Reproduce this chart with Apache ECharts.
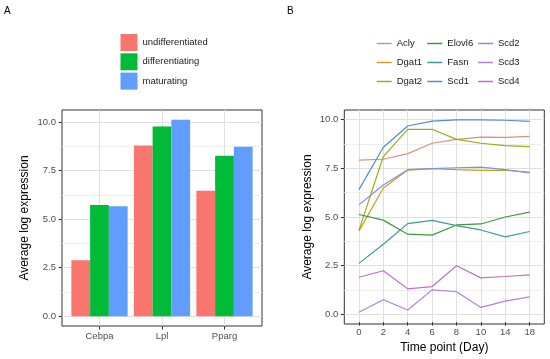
<!DOCTYPE html>
<html>
<head>
<meta charset="utf-8">
<script src="https://cdn.jsdelivr.net/npm/echarts@6/dist/echarts.min.js"></script>
<style>
html,body{margin:0;padding:0;background:#fff;}
#c{width:550px;height:359px;}
</style>
</head>
<body>
<div id="c"></div>
<script>
// ---------- Panel A data ----------
const genesA = ['Cebpa', 'Lpl', 'Pparg'];
const stagesA = ['undifferentiated', 'differentiating', 'maturating'];
const undifferentiated = [2.88, 8.80, 6.47];
const differentiating = [5.73, 9.78, 8.27];
const maturating = [5.67, 10.12, 8.73];
const ticksA = [0, 2.5, 5, 7.5, 10];
const minorTicksA = [1.25, 3.75, 6.25, 8.75];

// ---------- Panel B data ----------
const days = ['0', '2', '4', '6', '8', '10', '14', '18'];
const lineNames = ['Acly', 'Dgat1', 'Dgat2', 'Elovl6', 'Fasn', 'Scd1', 'Scd2', 'Scd3', 'Scd4'];
const Acly   = [7.89, 7.94, 8.23, 8.77, 8.97, 9.09, 9.07, 9.12];
const Dgat1  = [4.22, 6.45, 7.38, 7.45, 7.40, 7.36, 7.37, 7.27];
const Dgat2  = [4.26, 8.08, 9.49, 9.49, 8.97, 8.77, 8.65, 8.59];
const Elovl6 = [5.08, 4.79, 4.06, 4.01, 4.54, 4.59, 4.95, 5.20];
const Fasn   = [2.55, 3.54, 4.61, 4.78, 4.50, 4.28, 3.92, 4.20];
const Scd1   = [6.37, 8.56, 9.66, 9.91, 9.98, 9.98, 9.96, 9.90];
const Scd2   = [5.58, 6.61, 7.40, 7.46, 7.50, 7.53, 7.40, 7.23];
const Scd3   = [0.02, 0.67, 0.14, 1.18, 1.08, 0.27, 0.60, 0.82];
const Scd4   = [1.83, 2.17, 1.23, 1.35, 2.43, 1.80, 1.87, 1.95];
const lineData = [Acly, Dgat1, Dgat2, Elovl6, Fasn, Scd1, Scd2, Scd3, Scd4];
const ticksB = [0, 2.5, 5, 7.5, 10];
const minorTicksB = [1.25, 3.75, 6.25, 8.75];

const barColors = ['#F8766D', '#00BA38', '#619CFF'];
const lineColors = ['#D8937F', '#C4A21A', '#9AAE14', '#3D9A3D', '#3E9A96', '#4C8FD6', '#7F8FEA', '#B27FEA', '#C06EC8'];

const FONT = 'Liberation Sans, Arial, Helvetica, sans-serif';
const GRID_LINE = '#E0E0E0';
const MINOR_LINE = '#EEEEEE';
const FRAME = '#333333';
const TICK_TXT = '#4D4D4D';

const chart = echarts.init(document.getElementById('c'), null, {renderer: 'canvas'});

function frameY(min, max, ticks, name, gridIndex) {
  return {
    type: 'value', gridIndex: gridIndex, min: min, max: max,
    name: name, nameLocation: 'middle', nameGap: 31, nameRotate: 90,
    nameTextStyle: {fontSize: 12, color: '#000', fontFamily: FONT},
    axisLine: {show: false, onZero: false},
    axisTick: {show: true, length: 3.5, lineStyle: {color: FRAME, width: 1}, customValues: ticks},
    axisLabel: {show: true, customValues: ticks, color: TICK_TXT, fontSize: 9.5, fontFamily: FONT, margin: 6,
      formatter: v => Number(v).toFixed(1)},
    splitLine: {show: true, lineStyle: {color: GRID_LINE, width: 1}}
  };
}
function minorY(min, max, ticks, gridIndex) {
  return {
    type: 'value', gridIndex: gridIndex, min: min, max: max, position: 'left',
    axisLine: {show: false, onZero: false},
    axisTick: {show: false, customValues: ticks},
    axisLabel: {show: false, customValues: ticks},
    splitLine: {show: true, lineStyle: {color: MINOR_LINE, width: 1}}
  };
}
function hiddenY(min, max, gridIndex) {
  return {type: 'value', gridIndex: gridIndex, min: min, max: max, show: false,
    splitLine: {show: false}, axisLine: {show: false, onZero: false}, axisTick: {show: false}, axisLabel: {show: false}};
}

const A_MIN = -0.506, A_MAX = 10.626;
const B_MIN = -0.49, B_MAX = 10.49;

const series = [];
[undifferentiated, differentiating, maturating].forEach((d, i) => {
  series.push({
    name: stagesA[i], type: 'bar', xAxisIndex: 1, yAxisIndex: 2,
    data: d, barGap: '0%', barCategoryGap: '10%',
    itemStyle: {color: barColors[i]}, clip: false
  });
});
lineData.forEach((d, i) => {
  series.push({
    name: lineNames[i], type: 'line', xAxisIndex: 3, yAxisIndex: 5,
    data: d, showSymbol: false, symbol: 'none',
    lineStyle: {color: lineColors[i], width: 1.2}, itemStyle: {color: lineColors[i]}
  });
});

function lineLegend(names, left) {
  return {
    data: names, left: left, top: 34, orient: 'vertical', padding: 0,
    icon: 'rect', itemWidth: 15, itemHeight: 1.5, itemGap: 0,
    textStyle: {fontSize: 9.5, color: '#1a1a1a', fontFamily: FONT, lineHeight: 19, height: 19},
    selectedMode: false
  };
}

const option = {
  animation: false,
  backgroundColor: '#fff',
  textStyle: {fontFamily: FONT},
  title: [
    {text: 'A', left: 4, top: 6, padding: 0, textStyle: {fontSize: 10, fontWeight: 'normal', color: '#000', fontFamily: FONT}},
    {text: 'B', left: 287, top: 6, padding: 0, textStyle: {fontSize: 10, fontWeight: 'normal', color: '#000', fontFamily: FONT}}
  ],
  legend: [
    {data: stagesA, left: 120.5, top: 34, orient: 'vertical', icon: 'rect', padding: 0,
     itemWidth: 17, itemHeight: 17, itemGap: 2.3, selectedMode: false,
     textStyle: {fontSize: 9.5, color: '#1a1a1a', fontFamily: FONT}},
    lineLegend(lineNames.slice(0, 3), 376.7),
    lineLegend(lineNames.slice(3, 6), 427.3),
    lineLegend(lineNames.slice(6, 9), 478)
  ],
  grid: [
    {left: 62, top: 110, width: 200, height: 216, show: true, borderColor: FRAME, borderWidth: 1, backgroundColor: 'transparent', containLabel: false},
    {left: 68.25, top: 110, width: 187.5, height: 216, containLabel: false},
    {left: 344.3, top: 110, width: 200, height: 214, show: true, borderColor: FRAME, borderWidth: 1, backgroundColor: 'transparent', containLabel: false},
    {left: 358.93, top: 110, width: 170.74, height: 214, containLabel: false}
  ],
  xAxis: [
    {type: 'value', gridIndex: 0, min: -0.6, max: 2.6,
     axisLine: {show: false, onZero: false}, axisLabel: {show: false, customValues: [0, 1, 2]},
     axisTick: {show: false, customValues: [0, 1, 2]},
     splitLine: {show: true, lineStyle: {color: GRID_LINE, width: 1}}},
    {type: 'category', gridIndex: 1, data: genesA, boundaryGap: true,
     axisLine: {show: false, onZero: false},
     axisTick: {show: true, alignWithLabel: true, length: 3.5, lineStyle: {color: FRAME}},
     axisLabel: {color: TICK_TXT, fontSize: 9.5, fontFamily: FONT, margin: 5},
     splitLine: {show: false}},
    {type: 'value', gridIndex: 2, min: 0, max: 1, show: false, splitLine: {show: false}, axisLine: {onZero: false}},
    {type: 'category', gridIndex: 3, data: days, boundaryGap: false,
     name: 'Time point (Day)', nameLocation: 'middle', nameGap: 17,
     nameTextStyle: {fontSize: 12, color: '#000', fontFamily: FONT, verticalAlign: 'top'},
     axisLine: {show: false, onZero: false},
     axisTick: {show: true, length: 3.5, lineStyle: {color: FRAME}},
     axisLabel: {color: TICK_TXT, fontSize: 9.5, fontFamily: FONT, margin: 5},
     splitLine: {show: true, lineStyle: {color: GRID_LINE, width: 1}}}
  ],
  yAxis: [
    frameY(A_MIN, A_MAX, ticksA, 'Average log expression', 0),
    minorY(A_MIN, A_MAX, minorTicksA, 0),
    hiddenY(A_MIN, A_MAX, 1),
    frameY(B_MIN, B_MAX, ticksB, 'Average log expression', 2),
    minorY(B_MIN, B_MAX, minorTicksB, 2),
    hiddenY(B_MIN, B_MAX, 3)
  ],
  series: series
};
chart.setOption(option);
</script>
</body>
</html>
